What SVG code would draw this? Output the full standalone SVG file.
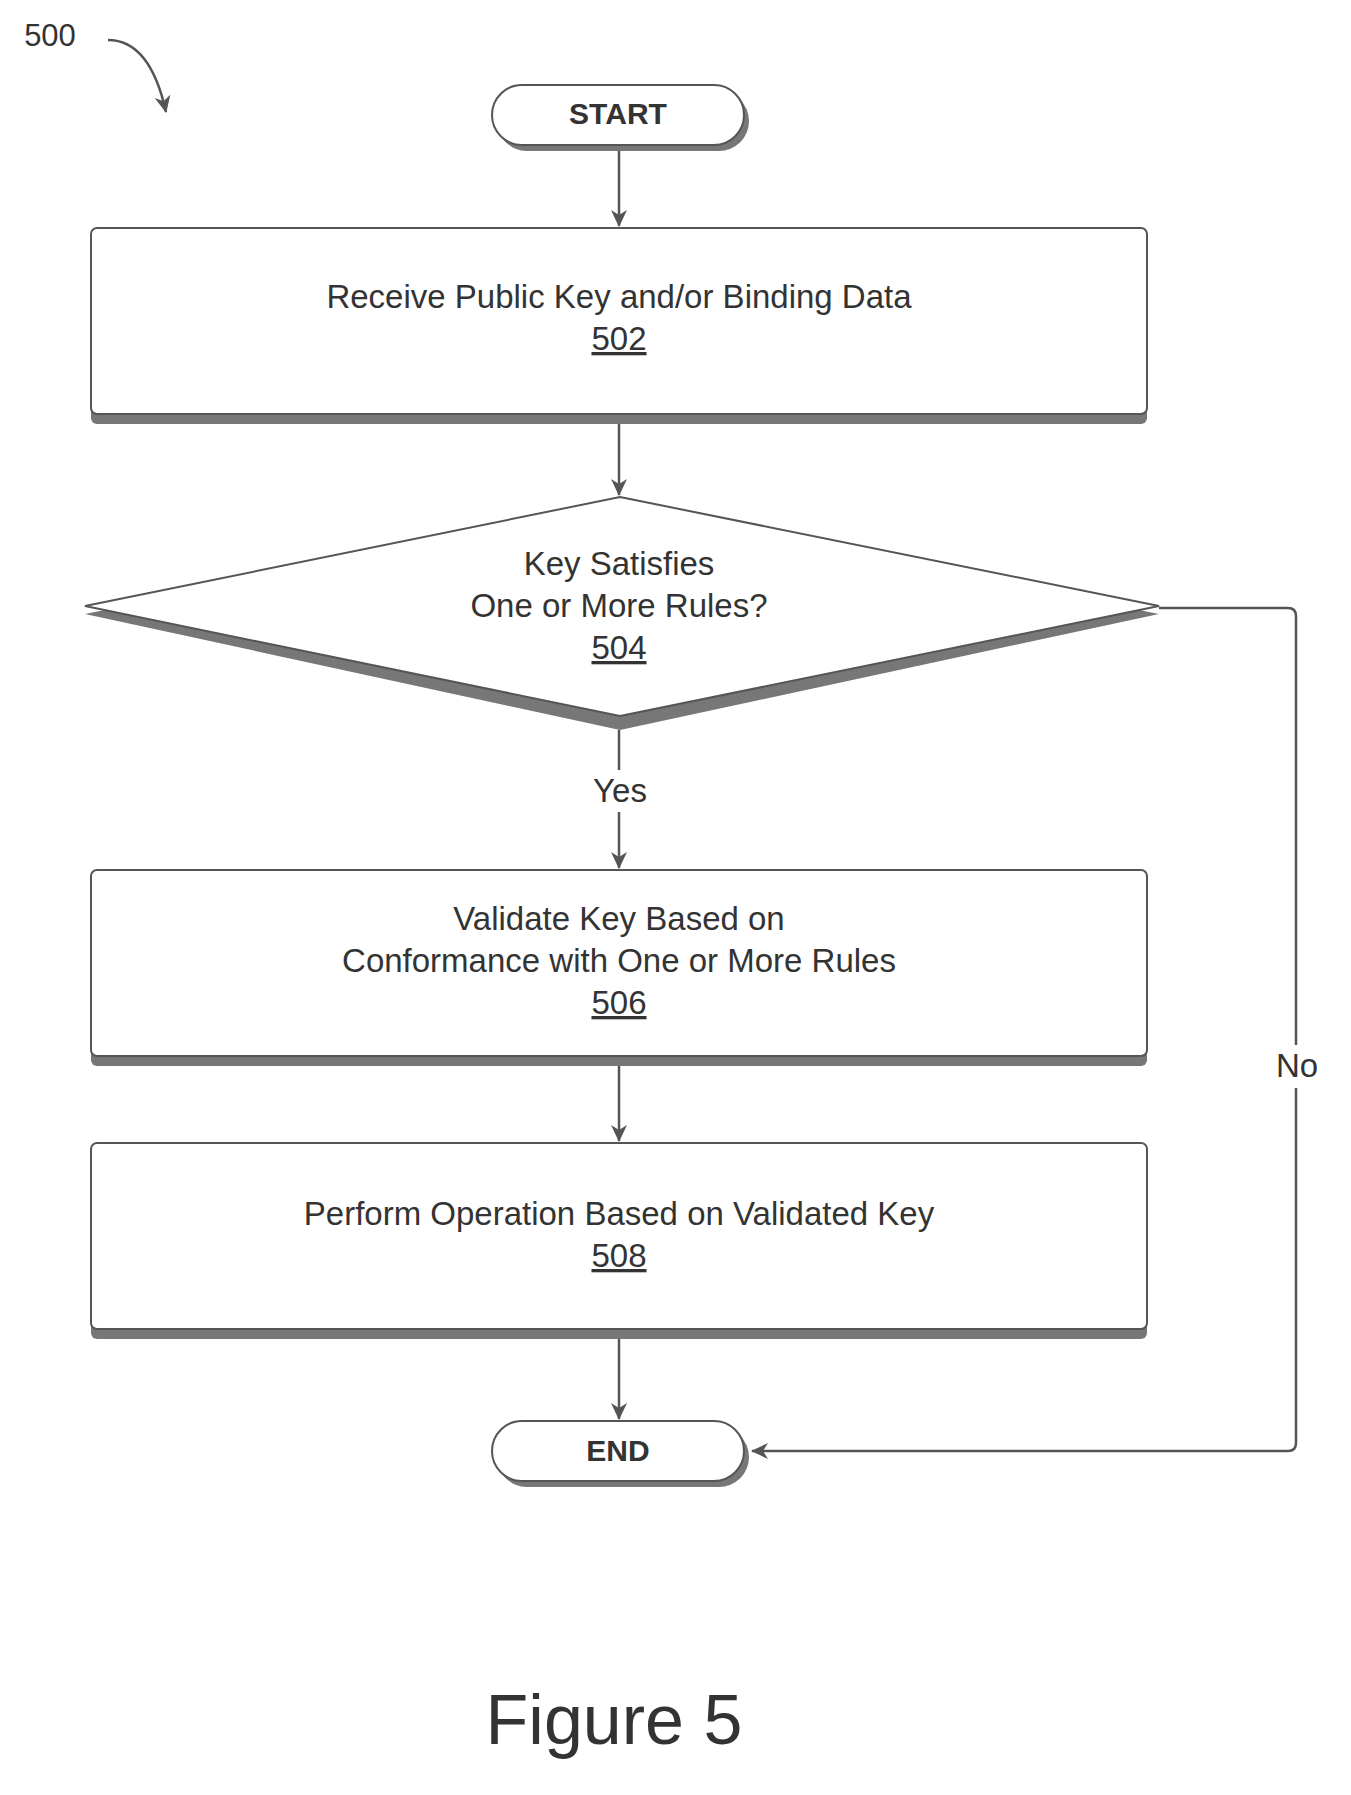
<svg xmlns="http://www.w3.org/2000/svg" width="1351" height="1795" viewBox="0 0 1351 1795">
<defs>
<style>
.b{fill:#fff;stroke:#555;stroke-width:2}
.s{fill:#777}
.t{font-family:"Liberation Sans",Arial,sans-serif;font-size:33px;fill:#333;text-anchor:middle}
.tb{font-family:"Liberation Sans",Arial,sans-serif;font-size:30px;font-weight:bold;fill:#333;text-anchor:middle}
.c{fill:none;stroke:#555;stroke-width:2.5}
</style>
<marker id="a" markerWidth="18" markerHeight="18" refX="16" refY="9" orient="auto" markerUnits="userSpaceOnUse"><path d="M0,1 L17,9 L0,17 L5,9 Z" fill="#555"/></marker>
</defs>
<rect width="1351" height="1795" fill="#fff"/>
<g id="label500"><text x="50" y="46" class="t" style="font-size:31px">500</text>
<path d="M108,40 Q150,40 166,112" class="c" marker-end="url(#a)"/></g>
<g id="start"><rect x="497" y="91" width="252" height="60" rx="30" class="s"/><rect x="492" y="85" width="252" height="60" rx="30" class="b"/><text x="618" y="124" class="tb">START</text></g>
<g id="n502"><rect x="91" y="236" width="1056" height="188" rx="6" class="s"/><rect x="91" y="228" width="1056" height="186" rx="6" class="b"/><text x="619" y="308" class="t">Receive Public Key and/or Binding Data</text><text x="619" y="350" class="t" text-decoration="underline">502</text></g>
<g id="n504"><polygon points="620,506 1159,614 620,730 85,614" class="s"/><polygon points="620,497 1159,606 620,716 85,606" class="b"/><text x="619" y="575" class="t">Key Satisfies</text><text x="619" y="617" class="t">One or More Rules?</text><text x="619" y="659" class="t" text-decoration="underline">504</text></g>
<g id="n506"><rect x="91" y="878" width="1056" height="188" rx="6" class="s"/><rect x="91" y="870" width="1056" height="186" rx="6" class="b"/><text x="619" y="930" class="t">Validate Key Based on</text><text x="619" y="972" class="t">Conformance with One or More Rules</text><text x="619" y="1014" class="t" text-decoration="underline">506</text></g>
<g id="n508"><rect x="91" y="1151" width="1056" height="188" rx="6" class="s"/><rect x="91" y="1143" width="1056" height="186" rx="6" class="b"/><text x="619" y="1225" class="t">Perform Operation Based on Validated Key</text><text x="619" y="1267" class="t" text-decoration="underline">508</text></g>
<g id="end"><rect x="497" y="1427" width="252" height="60" rx="30" class="s"/><rect x="492" y="1421" width="252" height="60" rx="30" class="b"/><text x="618" y="1461" class="tb">END</text></g>
<g id="connectors">
<line x1="619" y1="151" x2="619" y2="226" class="c" marker-end="url(#a)"/>
<line x1="619" y1="424" x2="619" y2="495" class="c" marker-end="url(#a)"/>
<line x1="619" y1="730" x2="619" y2="770" class="c"/>
<line x1="619" y1="812" x2="619" y2="868" class="c" marker-end="url(#a)"/>
<line x1="619" y1="1066" x2="619" y2="1141" class="c" marker-end="url(#a)"/>
<line x1="619" y1="1339" x2="619" y2="1419" class="c" marker-end="url(#a)"/>
<path d="M1159,608 H1288 Q1296,608 1296,616 V1045" class="c"/>
<path d="M1296,1088 V1443 Q1296,1451 1288,1451 H752" class="c" marker-end="url(#a)"/>
<text x="620" y="802" class="t">Yes</text>
<text x="1297" y="1077" class="t">No</text>
</g>
<text x="614" y="1744" class="t" style="font-size:70px">Figure 5</text>
</svg>
